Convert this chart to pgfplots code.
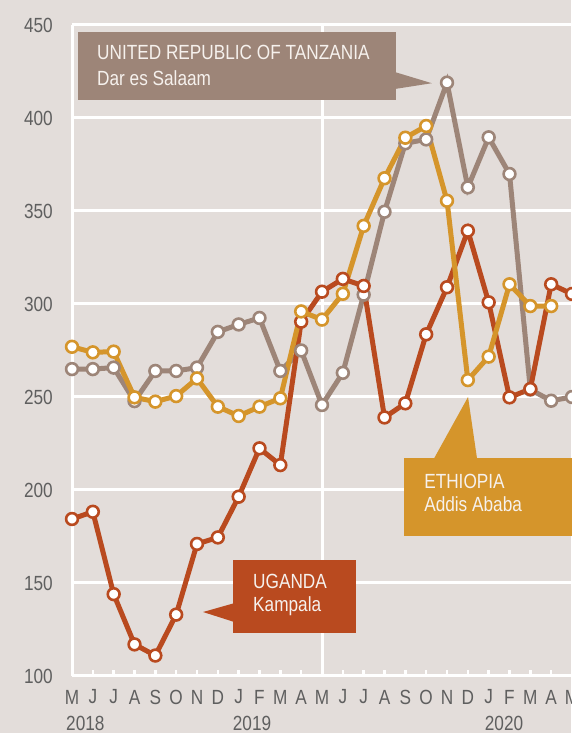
\documentclass[border=0pt]{standalone}
\usepackage{pgfplots}
\pgfplotsset{compat=1.18}
\usepackage{fontspec}
\setmainfont{Liberation Sans}[FakeStretch=0.84]
\definecolor{bg}{RGB}{227,221,218}
\definecolor{uga}{RGB}{185,74,31}
\definecolor{eth}{RGB}{213,149,43}
\definecolor{tza}{RGB}{157,133,120}
\definecolor{tickc}{RGB}{95,95,95}
\definecolor{boxtext}{RGB}{246,241,237}
\begin{document}
\begin{tikzpicture}
\fill[bg] (-72pt,-57pt) rectangle (499pt,676pt);
\begin{axis}[
  at={(0,0)}, anchor=south west,
  scale only axis, width=500pt, height=651pt,
  xmin=0, xmax=24, ymin=100, ymax=450,
  clip=false,
  axis x line*=bottom, axis y line*=left,
  axis line style={white, line width=3pt, -},
  ytick={100,150,...,450},
  ymajorgrids, grid style={white, line width=3pt},
  xtick={0,...,24},
  xticklabels={M,J,J,A,S,O,N,D,J,F,M,A,M,J,J,A,S,O,N,D,J,F,M,A,M},
  tick align=inside,
  major tick length=6pt,
  x tick style={white, line width=2.5pt},
  y tick style={draw=none},
  /pgf/number format/assume math mode=true,
  ticklabel style={font=\fontsize{20.5}{24}\selectfont, text=tickc},
  yticklabel style={anchor=east, inner sep=0pt, xshift=-19pt},
  xticklabel style={anchor=center, inner sep=0pt, yshift=-21pt},
  every axis plot/.append style={line width=5pt, mark=*, mark size=5.9pt,
     mark options={fill=white, line width=2.6pt}},
]
\draw[white, line width=3pt] (axis cs:12,100) -- (axis cs:12,450);
\draw[white, line width=3pt] (axis cs:24,100) -- (axis cs:24,450);

% Tanzania
\addplot[tza] coordinates {
(0,265) (1,265) (2,265.8) (3,247.8) (4,264) (5,264) (6,265.8) (7,285) (8,289)
(9,292.5) (10,264) (11,275) (12,245.7) (13,263) (14,305) (15,349.6) (16,386.4)
(17,388.5) (18,419) (19,362.7) (20,389.6) (21,369.9) (22,254) (23,248) (24,250)};
% Uganda
\addplot[uga] coordinates {
(0,184.4) (1,188.3) (2,144) (3,117) (4,111) (5,133) (6,171) (7,174.5) (8,196.4)
(9,222.4) (10,213.4) (11,290.5) (12,306.6) (13,313.5) (14,309.7) (15,239) (16,246.6)
(17,283.7) (18,309) (19,339.4) (20,300.9) (21,249.8) (22,254.3) (23,310.6) (24,305.4)};
% Ethiopia
\addplot[eth] coordinates {
(0,277) (1,274) (2,274.4) (3,249.8) (4,247.5) (5,250.5) (6,260) (7,244.8) (8,239.8)
(9,244.8) (10,249.3) (11,296) (12,291.6) (13,305.5) (14,342) (15,367.6) (16,389.4)
(17,395.7) (18,355.5) (19,259.1) (20,271.7) (21,310.6) (22,298.9) (23,298.9)};

% years
\node[anchor=west, inner sep=0pt, font=\fontsize{20.5}{24}\selectfont, text=tickc] at (axis cs:0,100) [xshift=-6pt, yshift=-47pt] {2018};
\node[anchor=west, inner sep=0pt, font=\fontsize{20.5}{24}\selectfont, text=tickc] at (axis cs:8,100) [xshift=-6pt, yshift=-47pt] {2019};
\node[anchor=west, inner sep=0pt, font=\fontsize{20.5}{24}\selectfont, text=tickc] at (axis cs:20,100) [xshift=-4pt, yshift=-47pt] {2020};

% Tanzania callout
\fill[tza] (axis cs:0.288,446.2) rectangle (axis cs:15.55,409.7);
\fill[tza] (axis cs:15.5,424.7) -- (axis cs:17.27,418.7) -- (axis cs:15.5,415.6) -- cycle;
\node[anchor=west, inner sep=0pt, font=\fontsize{20.5}{24}\selectfont, text=boxtext] at (axis cs:1.2,435) {UNITED REPUBLIC OF TANZANIA};
\node[anchor=west, inner sep=0pt, font=\fontsize{20.5}{24}\selectfont, text=boxtext] at (axis cs:1.2,421.5) {Dar es Salaam};

% Uganda callout
\fill[uga] (axis cs:7.73,162.4) rectangle (axis cs:13.63,123.1);
\fill[uga] (axis cs:7.8,139.2) -- (axis cs:6.29,134.4) -- (axis cs:7.8,129.0) -- cycle;
\node[anchor=west, inner sep=0pt, font=\fontsize{20.5}{24}\selectfont, text=boxtext] at (axis cs:8.69,150.7) {UGANDA};
\node[anchor=west, inner sep=0pt, font=\fontsize{20.5}{24}\selectfont, text=boxtext] at (axis cs:8.69,137.3) {Kampala};

% Ethiopia callout
\fill[eth] (axis cs:15.94,217.2) rectangle (axis cs:24,175.3);
\fill[eth] (axis cs:17.38,217) -- (axis cs:19.01,250) -- (axis cs:19.44,217) -- cycle;
\node[anchor=west, inner sep=0pt, font=\fontsize{20.5}{24}\selectfont, text=boxtext] at (axis cs:16.9,204.5) {ETHIOPIA};
\node[anchor=west, inner sep=0pt, font=\fontsize{20.5}{24}\selectfont, text=boxtext] at (axis cs:16.9,192.3) {Addis Ababa};
\end{axis}
\pgfresetboundingbox
\path[use as bounding box] (-72pt,-57pt) rectangle (499pt,676pt);
\end{tikzpicture}
\end{document}
